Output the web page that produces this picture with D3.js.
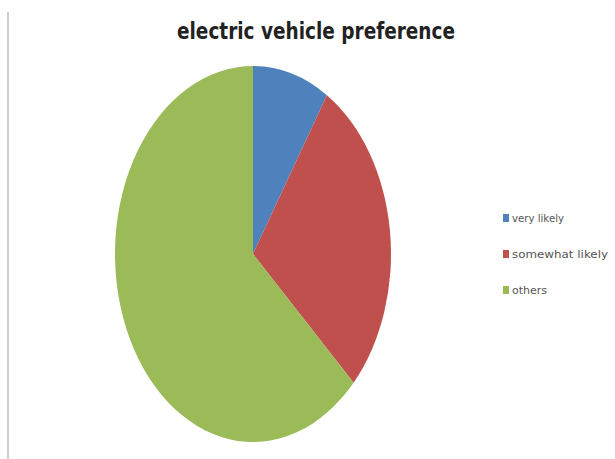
<!DOCTYPE html>
<html>
<head>
<meta charset="utf-8">
<script src="https://cdn.jsdelivr.net/npm/d3@7"></script>
<style>
  body { margin: 0; background: #fff; }
  svg { display: block; font-family: "DejaVu Sans", sans-serif; }
</style>
</head>
<body>
<svg id="chart"></svg>
<script>
// chart data
var categories = ["very likely", "somewhat likely", "others"];
var values = [9, 28, 63];
var colors = ["#4F81BD", "#C0504D", "#9BBB59"];

var width = 615, height = 459;
var cx = 253, cy = 254, rx = 138, ry = 188;

var svg = d3.select("#chart")
  .attr("width", width)
  .attr("height", height);

// frame line on the left
svg.append("line")
  .attr("x1", 8).attr("x2", 8)
  .attr("y1", 12).attr("y2", height)
  .attr("stroke", "#cfcfcf")
  .attr("stroke-width", 2);

// title
svg.append("text")
  .attr("x", 316)
  .attr("y", 39)
  .attr("text-anchor", "middle")
  .attr("font-size", 23)
  .attr("font-weight", "bold")
  .attr("fill", "#222")
  .attr("textLength", 278)
  .attr("lengthAdjust", "spacingAndGlyphs")
  .text("electric vehicle preference");

var data = categories.map(function (c, i) {
  return { name: c, value: values[i], color: colors[i] };
});

var pie = d3.pie()
  .sort(null)
  .value(function (d) { return d.value; });

var arc = d3.arc()
  .innerRadius(0)
  .outerRadius(ry);

// pie is stretched horizontally like the original picture
var g = svg.append("g")
  .attr("transform", "translate(" + cx + "," + cy + ") scale(" + (rx / ry) + ",1)");

g.selectAll("path")
  .data(pie(data))
  .enter()
  .append("path")
  .attr("d", arc)
  .attr("fill", function (d) { return d.data.color; });

// legend
var legend = svg.append("g")
  .attr("transform", "translate(503,219)");

var item = legend.selectAll("g")
  .data(data)
  .enter()
  .append("g")
  .attr("transform", function (d, i) { return "translate(0," + i * 36 + ")"; });

item.append("rect")
  .attr("x", 0).attr("y", -5)
  .attr("width", 6).attr("height", 8)
  .attr("fill", function (d) { return d.color; });

item.append("text")
  .attr("x", 9)
  .attr("y", 3)
  .attr("font-size", 11)
  .attr("fill", "#555")
  .attr("textLength", function (d, i) { return [52, 96, 35][i]; })
  .attr("lengthAdjust", "spacingAndGlyphs")
  .text(function (d) { return d.name; });
</script>
</body>
</html>
